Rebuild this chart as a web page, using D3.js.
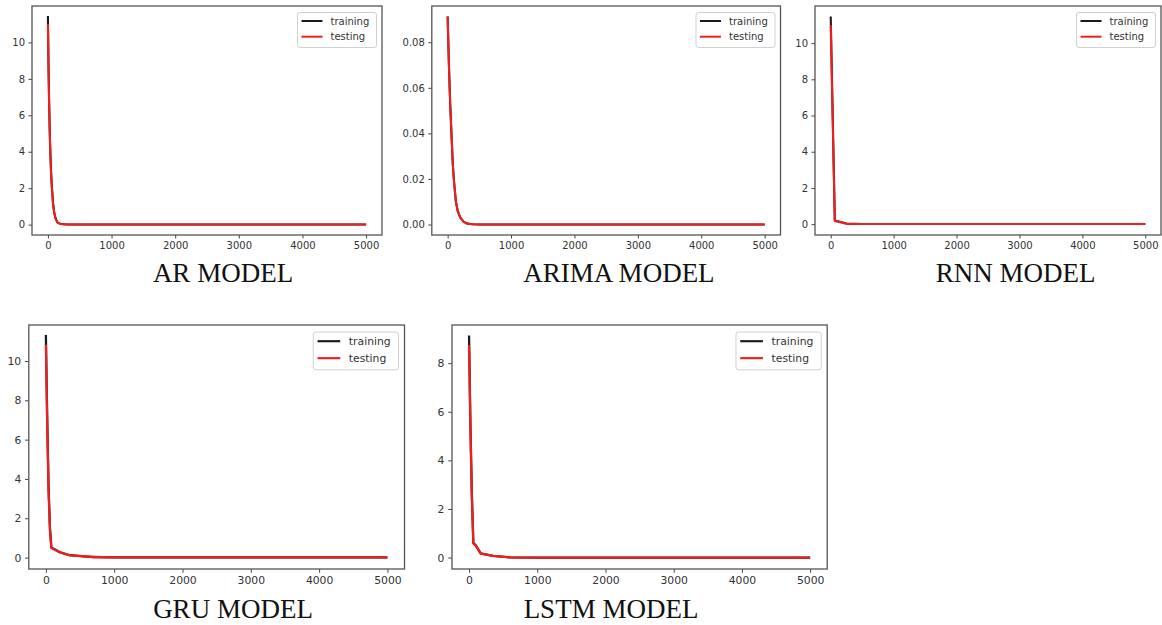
<!DOCTYPE html>
<html>
<head>
<meta charset="utf-8">
<script src="https://cdn.jsdelivr.net/npm/d3@7"></script>
<style>
  html, body { margin: 0; padding: 0; background: #fff; }
  svg { display: block; }
</style>
</head>
<body>
<svg id="chart" width="1162" height="625"></svg>
<script>
// ---------------- data ----------------
const xTicks = [0, 1000, 2000, 3000, 4000, 5000];
const seriesNames = ["training", "testing"];
const titles = ["AR MODEL", "ARIMA MODEL", "RNN MODEL", "GRU MODEL", "LSTM MODEL"];

const arX     = [0, 10, 20, 30, 40, 50, 60, 80, 100, 120, 150, 200, 300, 500, 1000, 2000, 3000, 4000, 5000];
const arTrain = [11.45, 8.7, 6.6, 5.0, 3.8, 2.9, 2.2, 1.2, 0.65, 0.35, 0.12, 0.03, 0.01, 0.01, 0.01, 0.01, 0.01, 0.01, 0.01];
const arTest  = [11.0, 8.4, 6.4, 4.9, 3.7, 2.8, 2.15, 1.15, 0.62, 0.33, 0.11, 0.03, 0.01, 0.01, 0.01, 0.01, 0.01, 0.01, 0.01];
const arYTicks = [0, 2, 4, 6, 8, 10];

const arimaX     = [0, 20, 40, 60, 80, 100, 130, 160, 200, 250, 300, 350, 400, 500, 1000, 2000, 3000, 4000, 5000];
const arimaTrain = [0.0913, 0.070, 0.053, 0.040, 0.027, 0.019, 0.0100, 0.0058, 0.0030, 0.0013, 0.0005, 0.0002, 0.0001, 0, 0, 0, 0, 0, 0];
const arimaTest  = [0.0913, 0.070, 0.053, 0.040, 0.027, 0.019, 0.0100, 0.0058, 0.0030, 0.0013, 0.0005, 0.0002, 0.0001, 0, 0, 0, 0, 0, 0];
const arimaYTicks = [0, 0.02, 0.04, 0.06, 0.08];

const rnnX     = [0, 65, 250, 500, 1000, 2000, 3000, 4000, 5000];
const rnnTrain = [11.47, 0.2, 0.03, 0.01, 0.01, 0.01, 0.01, 0.01, 0.01];
const rnnTest  = [11.0, 0.18, 0.02, 0.01, 0.01, 0.01, 0.01, 0.01, 0.01];
const rnnYTicks = [0, 2, 4, 6, 8, 10];

const gruX     = [0, 20, 40, 60, 80, 200, 350, 700, 1000, 2000, 3000, 4000, 5000];
const gruTrain = [11.32, 7.0, 3.5, 1.5, 0.52, 0.28, 0.12, 0.03, 0.01, 0.01, 0.01, 0.01, 0.01];
const gruTest  = [10.83, 6.7, 3.3, 1.4, 0.49, 0.27, 0.11, 0.03, 0.01, 0.01, 0.01, 0.01, 0.01];
const gruYTicks = [0, 2, 4, 6, 8, 10];

const lstmX     = [0, 20, 40, 63, 100, 170, 350, 600, 1000, 2000, 3000, 4000, 5000];
const lstmTrain = [9.14, 5.5, 2.7, 0.6, 0.5, 0.17, 0.07, 0.01, 0, 0, 0, 0, 0];
const lstmTest  = [8.75, 5.3, 2.6, 0.58, 0.48, 0.16, 0.07, 0.01, 0, 0, 0, 0, 0];
const lstmYTicks = [0, 2, 4, 6, 8];

// ---------------- layout ----------------
const panels = [
  { title: titles[0], x: arX,    train: arTrain,    test: arTest,    yTicks: arYTicks,    yDom: [-0.57, 12.0],     fmt: d3.format("d"),
    box: [32, 6, 382, 235], s: 1, titleX: 223, titleY: 282 },
  { title: titles[1], x: arimaX, train: arimaTrain, test: arimaTest, yTicks: arimaYTicks, yDom: [-0.0046, 0.0959], fmt: d3.format(".2f"),
    box: [431.8, 6, 780.5, 235], s: 1, titleX: 619, titleY: 282 },
  { title: titles[2], x: rnnX,   train: rnnTrain,   test: rnnTest,   yTicks: rnnYTicks,   yDom: [-0.6, 12.05],     fmt: d3.format("d"),
    box: [815, 6, 1161, 235], s: 1, titleX: 1015.5, titleY: 282 },
  { title: titles[3], x: gruX,   train: gruTrain,   test: gruTest,   yTicks: gruYTicks,   yDom: [-0.58, 11.83],    fmt: d3.format("d"),
    box: [28.8, 325, 404.5, 569], s: 1.08, titleX: 233, titleY: 618 },
  { title: titles[4], x: lstmX,  train: lstmTrain,  test: lstmTest,  yTicks: lstmYTicks,  yDom: [-0.47, 9.57],     fmt: d3.format("d"),
    box: [452, 325, 827.2, 569], s: 1.08, titleX: 611, titleY: 618 }
];

const colors = { training: "#1a1a1a", testing: "#f01e1e" };
const svg = d3.select("#chart");
svg.append("rect").attr("width", 1162).attr("height", 625).attr("fill", "#fff");

panels.forEach(p => {
  const [x0, y0, x1, y1] = p.box;
  const s = p.s;
  const xs = d3.scaleLinear().domain([-250, 5250]).range([x0, x1]);
  const ys = d3.scaleLinear().domain(p.yDom).range([y1, y0]);
  const g = svg.append("g");

  // lines
  const line = d3.line().x(d => xs(d[0])).y(d => ys(d[1]));
  const trainPts = p.x.map((v, i) => [v, p.train[i]]);
  const testPts  = p.x.map((v, i) => [v, p.test[i]]);
  g.append("path").datum(trainPts).attr("d", line)
    .attr("fill", "none").attr("stroke", colors.training).attr("stroke-width", 2.1 * s)
    .attr("stroke-linejoin", "round").attr("stroke-linecap", "butt");
  g.append("path").datum(testPts).attr("d", line)
    .attr("fill", "none").attr("stroke", colors.testing).attr("stroke-width", 2.1 * s)
    .attr("stroke-linejoin", "round").attr("stroke-linecap", "butt");

  // axes
  const fontSize = 10 * s;
  const xAxis = d3.axisBottom(xs).tickValues(xTicks).tickSize(3.5 * s).tickPadding(3 * s).tickFormat(d3.format("d"));
  const yAxis = d3.axisLeft(ys).tickValues(p.yTicks).tickSize(3.5 * s).tickPadding(3.5 * s).tickFormat(p.fmt);
  const gx = g.append("g").attr("transform", `translate(0,${y1})`).call(xAxis);
  const gy = g.append("g").attr("transform", `translate(${x0},0)`).call(yAxis);
  [gx, gy].forEach(a => {
    a.select(".domain").remove();
    a.selectAll(".tick line").attr("stroke", "#444").attr("stroke-width", 1);
    a.selectAll(".tick text").attr("fill", "#333")
      .style("font-family", "'DejaVu Sans', sans-serif").style("font-size", fontSize + "px");
  });

  // frame
  g.append("rect").attr("x", x0).attr("y", y0).attr("width", x1 - x0).attr("height", y1 - y0)
    .attr("fill", "none").attr("stroke", "#555").attr("stroke-width", 1.3);

  // legend
  const lw = 79 * s, lh = 35 * s;
  const lx = x1 - 5.5 * s - lw, ly = y0 + 6.5 * s;
  const lg = g.append("g").attr("transform", `translate(${lx},${ly})`);
  lg.append("rect").attr("width", lw).attr("height", lh).attr("rx", 2.5 * s)
    .attr("fill", "#fff").attr("fill-opacity", 0.85).attr("stroke", "#d0d0d0").attr("stroke-width", 1);
  seriesNames.forEach((name, i) => {
    const ry = (8.5 + i * 15.7) * s;
    lg.append("line").attr("x1", 4 * s).attr("x2", 25 * s).attr("y1", ry).attr("y2", ry)
      .attr("stroke", colors[name]).attr("stroke-width", 2 * s);
    lg.append("text").attr("x", 33 * s).attr("y", ry).attr("dy", "0.35em")
      .attr("fill", "#333").style("font-family", "'DejaVu Sans', sans-serif").style("font-size", fontSize + "px")
      .text(name);
  });

  // title
  svg.append("text").attr("x", p.titleX).attr("y", p.titleY).attr("text-anchor", "middle")
    .style("font-family", "'Liberation Serif', 'Times New Roman', serif").style("font-size", "27px")
    .attr("fill", "#111").text(p.title);
});
</script>
</body>
</html>
